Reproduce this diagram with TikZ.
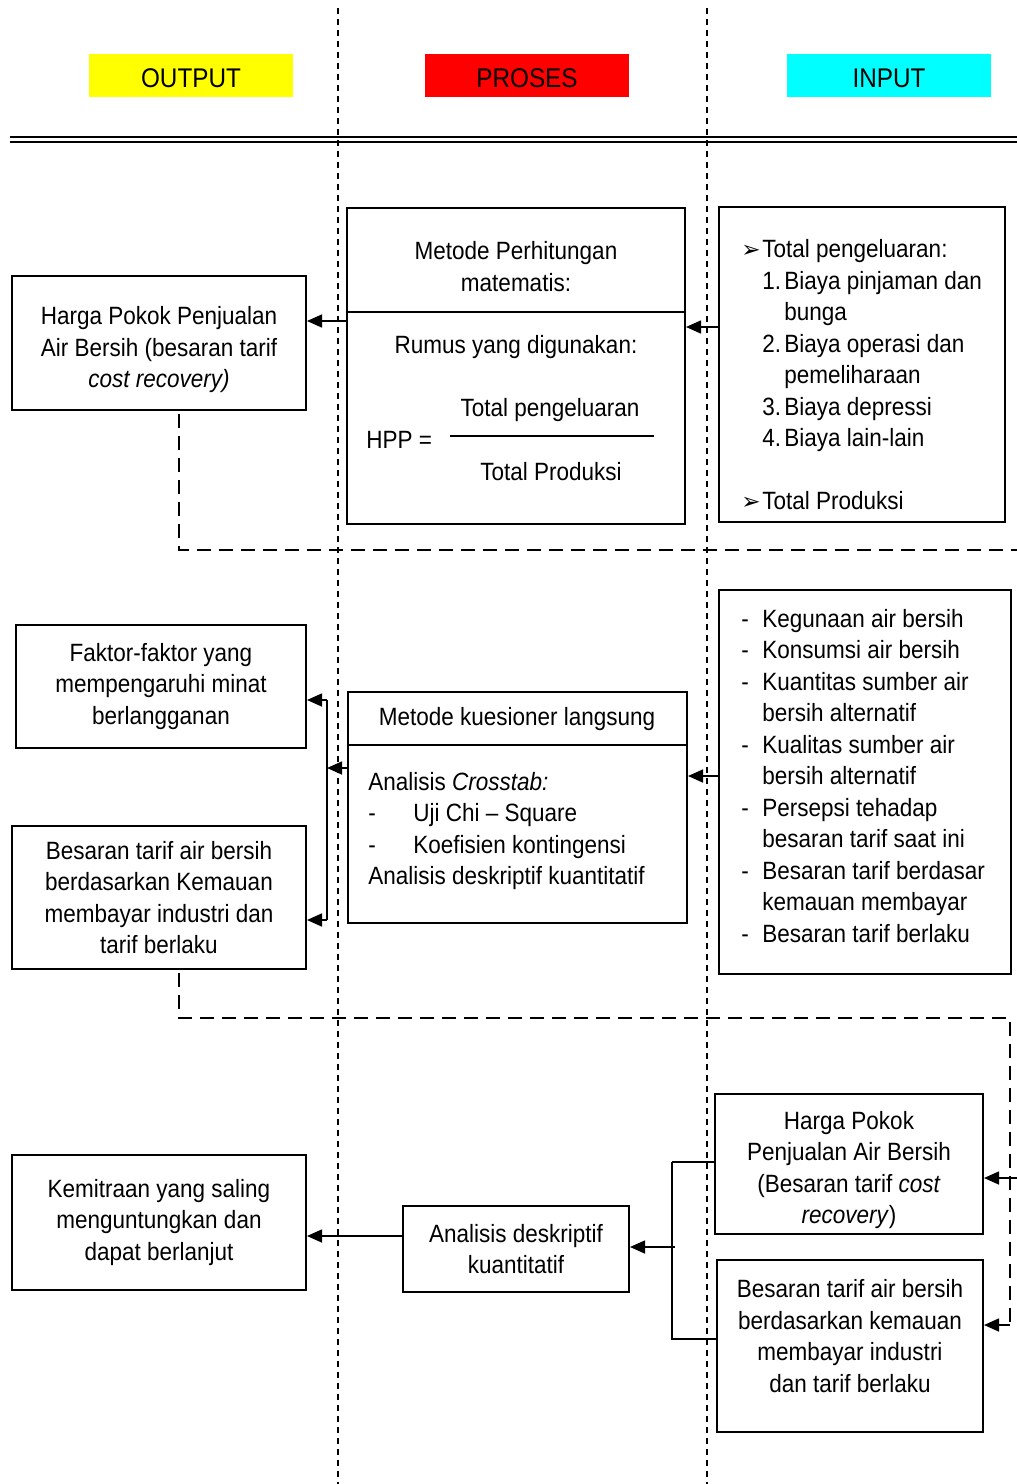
\documentclass[tikz,border=0pt]{standalone}
\usepackage{fontspec}
\setmainfont[FakeStretch=0.9]{Liberation Sans}
\newfontfamily\dingfont{DejaVu Sans}
\usetikzlibrary{arrows.meta}
\definecolor{outputyellow}{RGB}{255,255,0}
\definecolor{prosesred}{RGB}{255,0,0}
\definecolor{inputcyan}{RGB}{0,255,255}

\begin{document}
\begin{tikzpicture}[x=0.5pt, y=-0.5pt,
  every node/.style={font=\fontsize{12.5}{15.75}\selectfont},
  box/.style={draw, line width=1pt, align=center, inner sep=0pt},
  header/.style={minimum width=102pt, minimum height=21.5pt, inner sep=0pt,
    text height=11.9pt, text depth=0pt, font=\fontsize{13.5}{16}\selectfont},
  lane/.style={line width=0.7pt, dash pattern=on 3pt off 2.5pt},
  feedback/.style={line width=0.9pt, dash pattern=on 7pt off 4pt},
  link/.style={line width=0.8pt},
  arr/.style={line width=0.8pt, -{Triangle[length=7.5pt, width=6.5pt]}}]
  \useasboundingbox (0,0) rectangle (1017,1484);

  \node[header, fill=outputyellow] (output) at (191,75.5) {OUTPUT};
  \node[header, fill=prosesred] (proses) at (527,75.5) {PROSES};
  \node[header, fill=inputcyan] (input) at (889,75.5) {INPUT};
  \draw[line width=1.2pt] (10,137) -- (1017,137);
  \draw[line width=1.2pt] (10,142) -- (1017,142);
  \draw[lane] (338,8) -- (338,1484);
  \draw[lane] (707,8) -- (707,1484);

  \node[box, minimum width=147pt, minimum height=67pt] (hppout) at (159,343) {};
  \node[align=center] (hppouttext) at (159,350)
    {Harga Pokok Penjualan\\Air Bersih (besaran tarif\\\textit{cost recovery)}};
  \node[box, minimum width=169pt, minimum height=158pt] (proses1) at (516,366) {};
  \draw[line width=1pt] (proses1.west |- 0,312) -- (proses1.east |- 0,312);
  \node[align=center] (metode1) at (516,266.5) {Metode Perhitungan\\matematis:};
  \node (rumus) at (516,347) {Rumus yang digunakan:};
  \node[anchor=west, inner sep=0pt] (hpp) at (366,440) {HPP =};
  \node (pengeluaran) at (550,410) {Total pengeluaran};
  \node (produksi) at (551,472) {Total Produksi};
  \draw[line width=0.8pt] (450,436) -- (654,436);
  \node[box, minimum width=143pt, minimum height=157.5pt] (input1) at (862,364.5) {};
  \node[anchor=west, align=left, inner sep=0pt] (biaya) at (741,375)
    {\makebox[10.5pt][l]{\dingfont\fontsize{11.5}{12}\selectfont ➢}Total pengeluaran:\\
     \hspace*{10.5pt}\makebox[11pt][l]{1.}Biaya pinjaman dan\\
     \hspace*{21.5pt}bunga\\
     \hspace*{10.5pt}\makebox[11pt][l]{2.}Biaya operasi dan\\
     \hspace*{21.5pt}pemeliharaan\\
     \hspace*{10.5pt}\makebox[11pt][l]{3.}Biaya depressi\\
     \hspace*{10.5pt}\makebox[11pt][l]{4.}Biaya lain-lain\\[15.75pt]
     \makebox[10.5pt][l]{\dingfont\fontsize{11.5}{12}\selectfont ➢}Total Produksi};
  \draw[arr] (input1.west |- 0,327) -- (proses1.east |- 0,327);
  \draw[arr] (proses1.west |- 0,321) -- (hppout.east |- 0,321);
  \coordinate (fb1start) at ([shift={(20,3)}]hppout.south);
  \coordinate (fb1) at (1017,550);
  \draw[feedback] (fb1start) -- (fb1start |- fb1) -- (fb1);

  \node[box, minimum width=145pt, minimum height=61.5pt] (faktor) at (161,686.5)
    {Faktor-faktor yang\\mempengaruhi minat\\berlangganan};
  \node[box, minimum width=147pt, minimum height=71.5pt] (besaranout) at (159,897.5)
    {Besaran tarif air bersih\\berdasarkan Kemauan\\membayar industri dan\\tarif berlaku};
  \node[box, minimum width=169.5pt, minimum height=115.5pt] (proses2) at (517.5,807.5) {};
  \draw[line width=1pt] (proses2.west |- 0,745) -- (proses2.east |- 0,745);
  \node (metode2) at (517,719) {Metode kuesioner langsung};
  \node[anchor=west, align=left, inner sep=0pt] (analisis) at (368,831)
    {Analisis \textit{Crosstab:}\\
     \makebox[22.5pt][l]{-}Uji Chi – Square\\
     \makebox[22.5pt][l]{-}Koefisien kontingensi\\
     Analisis deskriptif kuantitatif};
  \node[box, minimum width=146pt, minimum height=192pt] (input2) at (865,782) {};
  \node[anchor=west, align=left, inner sep=0pt] (variabel) at (741,776)
    {\makebox[10.5pt][l]{-}Kegunaan air bersih\\
     \makebox[10.5pt][l]{-}Konsumsi air bersih\\
     \makebox[10.5pt][l]{-}Kuantitas sumber air\\
     \hspace*{10.5pt}bersih alternatif\\
     \makebox[10.5pt][l]{-}Kualitas sumber air\\
     \hspace*{10.5pt}bersih alternatif\\
     \makebox[10.5pt][l]{-}Persepsi tehadap\\
     \hspace*{10.5pt}besaran tarif saat ini\\
     \makebox[10.5pt][l]{-}Besaran tarif berdasar\\
     \hspace*{10.5pt}kemauan membayar\\
     \makebox[10.5pt][l]{-}Besaran tarif berlaku};
  \draw[arr] (input2.west |- 0,776) -- (proses2.east |- 0,776);
  \coordinate (fork2) at (327,768);
  \draw[arr] (proses2.west |- fork2) -- (fork2);
  \draw[link] (fork2 |- 0,700) -- (fork2 |- 0,920);
  \draw[arr] (fork2 |- 0,700) -- (faktor.east |- 0,700);
  \draw[arr] (fork2 |- 0,920) -- (besaranout.east |- 0,920);

  \node[box, minimum width=147pt, minimum height=67.5pt] (kemitraan) at (159,1222.5)
    {Kemitraan yang saling\\menguntungkan dan\\dapat berlanjut};
  \node[box, minimum width=113pt, minimum height=43pt] (deskriptif) at (516,1249)
    {Analisis deskriptif\\kuantitatif};
  \node[box, minimum width=134pt, minimum height=70pt] (hppin) at (849,1164) {};
  \node[align=center] (hppintext) at (849,1170)
    {Harga Pokok\\Penjualan Air Bersih\\(Besaran tarif \textit{cost}\\\textit{recovery})};
  \node[box, minimum width=133pt, minimum height=86pt] (besaranin) at (850,1346) {};
  \node[align=center] (besaranintext) at (850,1336)
    {Besaran tarif air bersih\\berdasarkan kemauan\\membayar industri\\dan tarif berlaku};
  \coordinate (fb2start) at ([shift={(20,3)}]besaranout.south);
  \coordinate (fb2) at (1010,1018);
  \draw[feedback] (fb2start) -- (fb2start |- fb2) -- (fb2) -- (fb2 |- 0,1322);
  \draw[arr] (fb2 |- 0,1325) -- (besaranin.east |- 0,1325);
  \coordinate (fb3) at (1017,1178);
  \draw[arr] (fb3) -- (hppin.east |- fb3);
  \coordinate (fork3) at (672,1247);
  \draw[link] (fork3 |- 0,1162) -- (hppin.west |- 0,1162);
  \draw[link] (fork3 |- 0,1162) -- (fork3 |- 0,1339) -- (besaranin.west |- 0,1339);
  \draw[arr] ([xshift=1.5pt]fork3) -- (deskriptif.east |- fork3);
  \draw[arr] (deskriptif.west |- 0,1236) -- (kemitraan.east |- 0,1236);
\end{tikzpicture}
\end{document}
